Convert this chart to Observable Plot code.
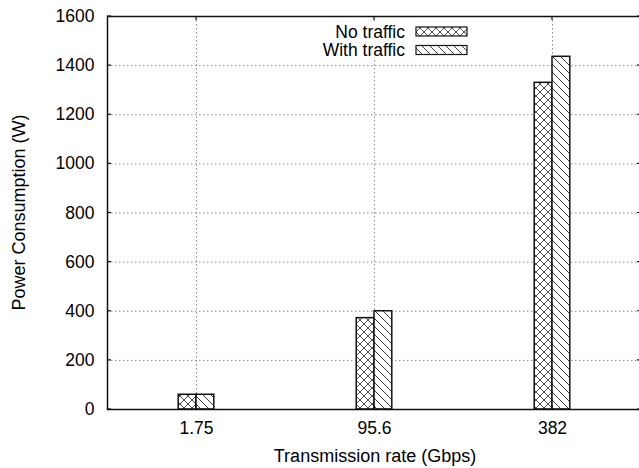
<!DOCTYPE html>
<html><head><meta charset="utf-8">
<script src="https://cdn.jsdelivr.net/npm/d3@7"></script>
<script src="https://cdn.jsdelivr.net/npm/@observablehq/plot@0.6"></script>
<style>html,body{margin:0;padding:0;background:#fff;overflow:hidden;}</style>
</head><body><div id="chart"></div>
<script>
const rates = ["1.75", "95.6", "382"];
const seriesNames = ["No traffic", "With traffic"];
const noTraffic = [60, 372, 1330];
const withTraffic = [60, 400, 1436];
const yTicks = [0, 200, 400, 600, 800, 1000, 1200, 1400, 1600];
const xTicks = [0, 1, 2];
const xTitle = "Transmission rate (Gbps)";
const yTitle = "Power Consumption (W)";
const barWidth = 0.1;

const rowsNo = rates.map((r, i) => ({i, rate: r, series: seriesNames[0], value: noTraffic[i]}));
const rowsWith = rates.map((r, i) => ({i, rate: r, series: seriesNames[1], value: withTraffic[i]}));

const font = "'Liberation Sans', Arial, Helvetica, sans-serif";
const fs = 17.5;
const gridStyle = {stroke: "#8a8a8a", strokeOpacity: 1, strokeDasharray: "1.5,2.5", strokeWidth: 1};

const plot = Plot.plot({
  width: 641, height: 468,
  marginLeft: 107, marginRight: 0, marginTop: 16, marginBottom: 59,
  style: {fontFamily: font, fontSize: fs + "px", color: "#000", background: "#fff", maxWidth: "none", overflow: "visible"},
  x: {type: "linear", domain: [-0.5, 2.5]},
  y: {domain: [0, 1600]},
  marks: [
    Plot.gridY(yTicks.slice(1, -1), gridStyle),
    Plot.gridX(xTicks, gridStyle),
    Plot.rectY(rowsNo, {x1: d => d.i - barWidth, x2: d => d.i, y1: 0, y2: "value", fill: "url(#hatch-cross)", stroke: "#111", strokeWidth: 1.5}),
    Plot.rectY(rowsWith, {x1: d => d.i, x2: d => d.i + barWidth, y1: 0, y2: "value", fill: "url(#hatch-diag)", stroke: "#111", strokeWidth: 1.5}),
    Plot.frame({stroke: "#111", strokeWidth: 1.5}),
    Plot.axisY(yTicks, {tickSize: 0, tickPadding: 13, fontSize: fs, tickFormat: d => String(d), label: null}),
    Plot.axisX(xTicks, {tickSize: 0, tickPadding: 12, fontSize: fs, tickFormat: i => rates[i], label: null})
  ]
});
plot.style.maxWidth = "none";
document.getElementById("chart").appendChild(plot);

const svg = d3.select(plot);
const defs = svg.insert("defs", ":first-child");
const pc = defs.append("pattern").attr("id", "hatch-cross").attr("patternUnits", "userSpaceOnUse").attr("width", 8).attr("height", 8);
pc.append("rect").attr("width", 8).attr("height", 8).attr("fill", "#fff");
pc.append("path").attr("d", "M0,0L8,8M8,0L0,8").attr("stroke", "#222").attr("stroke-width", 0.8).attr("fill", "none");
const pd = defs.append("pattern").attr("id", "hatch-diag").attr("patternUnits", "userSpaceOnUse").attr("width", 8).attr("height", 8);
pd.append("rect").attr("width", 8).attr("height", 8).attr("fill", "#fff");
pd.append("path").attr("d", "M0,0L8,8M-4,4L4,12M4,-4L12,4").attr("stroke", "#222").attr("stroke-width", 0.9).attr("fill", "none");

const xs = plot.scale("x"), ys = plot.scale("y");
const x0 = xs.apply(-0.5), x1 = xs.apply(2.5), y0 = ys.apply(0), y1 = ys.apply(1600);
const g = svg.append("g").attr("stroke", "#111").attr("stroke-width", 1.2);
yTicks.forEach(v => {
  const y = ys.apply(v);
  g.append("line").attr("x1", x0).attr("x2", x0 + 4).attr("y1", y).attr("y2", y);
  g.append("line").attr("x1", x1 - 4).attr("x2", x1).attr("y1", y).attr("y2", y);
});
xTicks.forEach(v => {
  const x = xs.apply(v);
  g.append("line").attr("x1", x).attr("x2", x).attr("y1", y1).attr("y2", y1 + 4);
  g.append("line").attr("x1", x).attr("x2", x).attr("y1", y0).attr("y2", y0 - 4);
});

// axis titles
const tg = svg.append("g").attr("font-family", font).attr("font-size", 18).attr("fill", "#000");
tg.append("text").attr("x", (x0 + 639) / 2 + 2).attr("y", 461.5).attr("text-anchor", "middle").text(xTitle);
tg.append("text").attr("transform", `translate(25,${(y0 + y1) / 2}) rotate(-90)`).attr("text-anchor", "middle").text(yTitle);

// legend (key)
const lg = svg.append("g").attr("font-family", font).attr("font-size", fs);
lg.append("rect").attr("x", 310).attr("y", 21).attr("width", 166).attr("height", 37).attr("fill", "#fff");
const fills = ["url(#hatch-cross)", "url(#hatch-diag)"];
seriesNames.forEach((name, k) => {
  const cy = 31.5 + k * 18.5;
  lg.append("text").attr("x", 405).attr("y", cy).attr("dy", "0.35em").attr("text-anchor", "end").attr("fill", "#000").text(name);
  lg.append("rect").attr("x", 416).attr("y", cy - 4.5).attr("width", 51).attr("height", 9).attr("fill", fills[k]).attr("stroke", "#111").attr("stroke-width", 1.2);
});
</script></body></html>
